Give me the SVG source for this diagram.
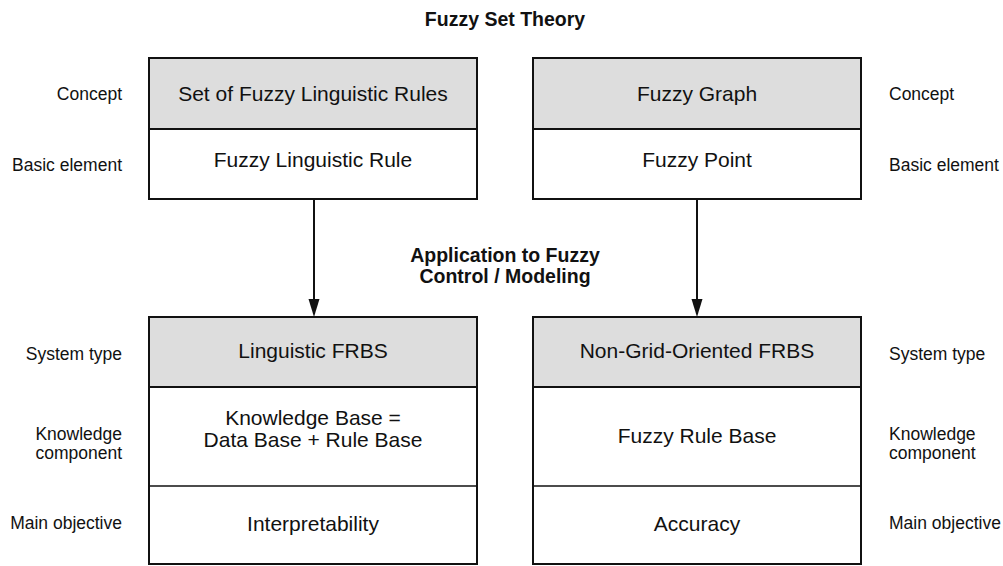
<svg xmlns="http://www.w3.org/2000/svg" width="1003" height="566" viewBox="0 0 1003 566">
<defs>
<style>
.box{stroke:#111;stroke-width:2;}
.head{fill:#dddddd;}
.body{fill:#ffffff;}
.div{stroke:#111;stroke-width:1.6;fill:none;}
.bt{font-family:"Liberation Sans",Arial,sans-serif;font-size:21px;fill:#111;text-anchor:middle;}
.sl{font-family:"Liberation Sans",Arial,sans-serif;font-size:17.5px;fill:#111;text-anchor:end;}
.sr{font-family:"Liberation Sans",Arial,sans-serif;font-size:17.5px;fill:#111;text-anchor:start;}
.bold{font-family:"Liberation Sans",Arial,sans-serif;font-size:19.5px;font-weight:bold;fill:#111;text-anchor:middle;}
.conn{stroke:#111;stroke-width:2;fill:none;}
.ah{fill:#111;stroke:none;}
</style>
</defs>
<rect width="1003" height="566" fill="#ffffff"/>
<text class="bold" x="505" y="26">Fuzzy Set Theory</text>
<g id="labels-left">
<text class="sl" x="122" y="100">Concept</text>
<text class="sl" x="122" y="171">Basic element</text>
<text class="sl" x="122" y="360">System type</text>
<text class="sl" x="122" y="440">Knowledge</text>
<text class="sl" x="122" y="459">component</text>
<text class="sl" x="122" y="529">Main objective</text>
</g>
<g id="labels-right">
<text class="sr" x="889" y="100">Concept</text>
<text class="sr" x="889" y="171">Basic element</text>
<text class="sr" x="889" y="360">System type</text>
<text class="sr" x="889" y="440">Knowledge</text>
<text class="sr" x="889" y="459">component</text>
<text class="sr" x="889" y="529">Main objective</text>
</g>
<g id="node-set-of-rules">
<rect class="box head" x="149" y="58" width="328" height="71"/>
<rect class="box body" x="149" y="129" width="328" height="70"/>
<text class="bt" x="313" y="101">Set of Fuzzy Linguistic Rules</text>
<text class="bt" x="313" y="167">Fuzzy Linguistic Rule</text>
</g>
<g id="node-fuzzy-graph">
<rect class="box head" x="533" y="58" width="328" height="71"/>
<rect class="box body" x="533" y="129" width="328" height="70"/>
<text class="bt" x="697" y="101">Fuzzy Graph</text>
<text class="bt" x="697" y="167">Fuzzy Point</text>
</g>
<g id="node-linguistic-frbs">
<rect class="box body" x="149" y="317" width="328" height="247"/>
<rect class="box head" x="149" y="317" width="328" height="70"/>
<line class="div" x1="149" y1="486" x2="477" y2="486"/>
<text class="bt" x="313" y="358">Linguistic FRBS</text>
<text class="bt" x="313" y="425">Knowledge Base =</text>
<text class="bt" x="313" y="447">Data Base + Rule Base</text>
<text class="bt" x="313" y="531">Interpretability</text>
</g>
<g id="node-non-grid-frbs">
<rect class="box body" x="533" y="317" width="328" height="247"/>
<rect class="box head" x="533" y="317" width="328" height="70"/>
<line class="div" x1="533" y1="486" x2="861" y2="486"/>
<text class="bt" x="697" y="358">Non-Grid-Oriented FRBS</text>
<text class="bt" x="697" y="443">Fuzzy Rule Base</text>
<text class="bt" x="697" y="531">Accuracy</text>
</g>
<g id="connectors">
<line class="conn" x1="314" y1="199" x2="314" y2="302"/>
<polygon class="ah" points="308.5,299 319.5,299 314,317"/>
<line class="conn" x1="697" y1="199" x2="697" y2="302"/>
<polygon class="ah" points="691.5,299 702.5,299 697,317"/>
<text class="bold" x="505" y="262">Application to Fuzzy</text>
<text class="bold" x="505" y="283">Control / Modeling</text>
</g>
</svg>
